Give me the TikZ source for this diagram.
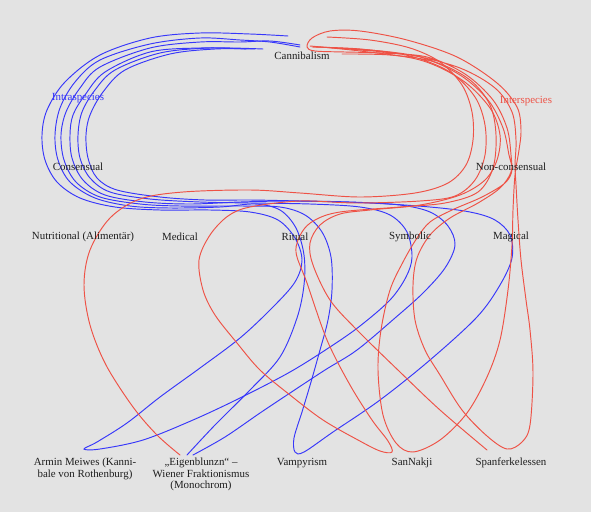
\documentclass[tikz,border=0pt]{standalone}
\usepackage{fontspec}
\setmainfont{Liberation Serif}
\definecolor{bg}{RGB}{227,227,227}
\definecolor{myblue}{RGB}{55,55,250}
\definecolor{myred}{RGB}{238,82,70}
\definecolor{txt}{RGB}{30,30,30}
\begin{document}
\begin{tikzpicture}[x=1pt,y=-1pt,
  lbl/.style={font=\fontsize{10.9}{11.6}\selectfont, text=txt, inner sep=0pt, align=center},
  bl/.style={draw=myblue, line width=0.95pt, line cap=round},
  rd/.style={draw=myred, line width=0.95pt, line cap=round}]
\fill[bg] (0,0) rectangle (591,512);
\useasboundingbox (0,0) rectangle (591,512);

% ---------- blue curves ----------
\draw[bl] plot[smooth, tension=0.55] coordinates {(288,36) (250,34) (200,33) (150,38) (100,55) (65,82) (47,110) (42,135) (45,160) (57,182) (80,198) (115,207) (160,210) (210,210) (250,212) (278,220) (295,238) (302,260) (295,282) (273,307) (240,338) (200,368) (160,397) (127,423) (97,442) (84,449) (100,449) (143,440) (193,420) (240,398) (290,372) (330,347) (360,326) (390,300) (406,277) (412,257) (407,232) (390,215) (360,207) (310,204) (250,203) (200,202) (150,199) (110,192) (90,178) (80,158) (78,135) (82,112) (95,90) (115,70) (160,53) (210,48) (263,49)};

\draw[bl] plot[smooth, tension=0.55] coordinates {(300,47) (270,42) (240,40) (200,38) (150,44) (100,60) (75,82) (60,108) (55,135) (58,160) (70,182) (95,198) (130,206) (170,208) (220,207) (255,204) (280,210) (296,228) (304,255) (304,285) (297,318) (280,357) (250,390) (215,425) (187,455)};
\draw[bl] plot[smooth, tension=0.55] coordinates {(193,455) (225,437) (260,413) (290,393) (325,370) (357,350) (395,318) (423,293) (445,268) (455,245) (448,226) (430,212) (400,205) (350,202) (290,201) (240,202) (190,204) (145,202) (105,195) (83,180) (72,158) (70,135) (73,115) (85,95) (105,72) (150,52) (200,48) (246,49)};

\draw[bl] plot[smooth, tension=0.55] coordinates {(300,45) (270,41) (240,42) (200,42) (150,48) (100,67) (80,88) (66,112) (61,135) (64,160) (76,182) (100,197) (140,204) (180,206) (240,206) (280,207) (305,215) (322,232) (331,257) (332,290) (328,320) (320,350) (311,382) (302,412) (294,438) (295,452) (304,452) (333,432) (380,400) (430,360) (477,317) (500,285) (512,258) (510,235) (495,220) (470,212) (430,207) (370,203) (300,201) (250,200) (205,200) (160,197) (117,190) (97,178) (88,158) (86,135) (90,115) (103,92) (125,70) (170,54) (215,49) (255,49)};

% ---------- red curves ----------
\draw[rd] plot[smooth, tension=0.55] coordinates {(327,37) (370,40) (410,48) (440,62) (462,85) (472,112) (473,140) (466,165) (448,183) (415,193) (360,197) (300,193) (250,190) (183,192) (140,199) (110,218) (90,250) (84,285) (90,325) (106,365) (133,407) (157,435) (180,455)};

\draw[rd] plot[smooth, tension=0.55] coordinates {(312,47) (360,49) (410,56) (450,72) (475,97) (485,125) (485,155) (475,180) (455,196) (420,201) (357,203) (300,201) (250,207) (228,216) (210,235) (199,260) (203,290) (215,315) (237,343) (260,370) (290,395) (323,420) (358,440) (380,451) (392,452) (388,441) (372,420) (350,385) (327,340) (307,283) (296,252) (302,232) (315,220) (340,212) (400,207) (445,203) (478,192) (493,168) (496,135) (490,105) (470,80) (435,62) (390,55) (342,54)};

\draw[rd] plot[smooth, tension=0.55] coordinates {(310,46) (360,51) (420,60) (462,80) (490,108) (500,135) (497,160) (485,180) (460,195) (420,205) (370,210) (340,214) (320,225) (310,243) (313,265) (330,300) (357,330) (400,372) (440,410) (487,450)};

\draw[rd] plot[smooth, tension=0.55] coordinates {(316,47) (370,50) (420,57) (460,75) (488,100) (503,128) (509,155) (512,170) (505,183) (482,197) (452,210) (430,222) (417,238) (403,262) (390,290) (381,330) (378,370) (383,415) (396,443) (413,452) (440,440) (467,413) (487,377) (500,340) (508,290) (512,245) (513,210) (515,175) (519,150) (521,130) (517,107) (497,83) (457,57) (407,40) (360,31) (330,31) (312,38) (307,47) (315,51) (345,52) (380,53) (427,57) (465,74) (493,100) (507,128) (511,155) (511,172) (500,188) (478,203) (450,218) (430,235) (417,258) (413,285) (415,320) (425,350) (440,375) (462,410) (487,436) (507,449) (522,442) (530,425) (533,373) (530,330) (526,300) (521,260) (518,220) (516,185) (515,165) (516,140) (512,112) (495,88) (460,68) (410,55) (360,50) (320,47)};

% ---------- labels ----------
\node[lbl] (can) at (302,56) {Cannibalism};
\node[lbl, text=myblue] (intra) at (78,98) {Intraspecies};
\node[lbl, text=myred] (inter) at (526,101) {Interspecies};
\node[lbl] (cons) at (78,167) {Consensual};
\node[lbl] (ncons) at (511,167) {Non-consensual};
\node[lbl] (nutr) at (83,237) {Nutritional (Alimentär)};
\node[lbl] (med) at (180,237) {Medical};
\node[lbl] (rit) at (295,237) {Ritual};
\node[lbl] (sym) at (410,237) {Symbolic};
\node[lbl] (mag) at (511,237) {Magical};
\node[lbl, anchor=north] (armin) at (85,458) {Armin Meiwes (Kanni-\\bale von Rothenburg)};
\node[lbl, anchor=north] (eigen) at (201,458) {„Eigenblunzn“ –\\Wiener Fraktionismus\\(Monochrom)};
\node[lbl] (vamp) at (302,463) {Vampyrism};
\node[lbl] (san) at (412,463) {SanNakji};
\node[lbl] (span) at (511,463) {Spanferkelessen};
\end{tikzpicture}
\end{document}
